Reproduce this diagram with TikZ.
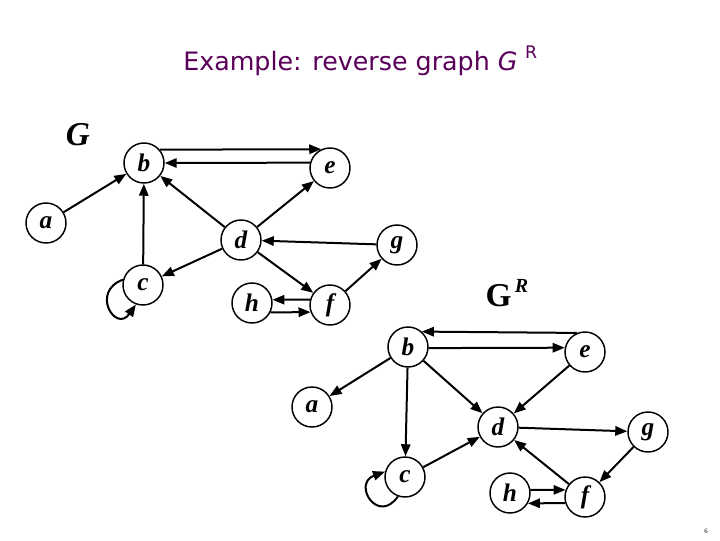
\documentclass[tikz,border=0pt]{standalone}
\usepackage{fontspec}
\setmainfont{Liberation Serif}
\newfontfamily\titlefont{DejaVu Sans}
\usetikzlibrary{arrows.meta,calc}
\definecolor{titlepurple}{RGB}{90,0,90}
\begin{document}
\begin{tikzpicture}[x=0.75pt,y=-0.75pt,
  vert/.style={circle,draw,line width=1.1pt,minimum size=30pt,inner sep=0pt,
    font=\fontsize{19}{19}\selectfont\bfseries\itshape},
  edge/.style={line width=1.5pt,-{Triangle[length=9pt,width=7pt]}},
  glabel/.style={font=\fontsize{25}{25}\selectfont\bfseries},
]
\useasboundingbox (0,0) rectangle (720,540);

% title
\node[anchor=base west,inner sep=0pt,text=titlepurple,
  font=\titlefont\fontsize{19}{19}\selectfont] (title) at (183,70)
  {Example: reverse graph \textit{G}\hspace{0.3em}\raisebox{0.45em}{\fontsize{13}{13}\selectfont R}};

% ---------- graph G ----------
\node[font=\fontsize{25}{25}\selectfont\bfseries\itshape] (G) at (78,135) {G};
\node[vert] (a) at (46,223) {a};
\node[vert] (b) at (144,163) {b};
\node[vert] (e) at (330,168) {e};
\node[vert] (d) at (241,240) {d};
\node[vert] (g) at (397,245) {g};
\node[vert] (c) at (143,285) {c};
\node[vert] (h) at (252,303) {h};
\node[vert] (f) at (330,305) {f};

\draw[edge] (a) -- (b);
\draw[edge] (c) -- (b);
\draw[edge] (b.40) -- (e.115);
\draw[edge] (e.165) -- (b.0);
\draw[edge] (d) -- (b);
\draw[edge] (d) -- (e);
\draw[edge] (g) -- (d);
\draw[edge] (d) -- (c);
\draw[edge] (d) -- (f);
\draw[edge] (f) -- (g);
\draw[edge] (f.165) -- (h.9);
\draw[edge] (h.-27) -- (f.-160);
\draw[edge] (c.165) to[out=200,in=235,looseness=3.2] (c.250);

% ---------- graph G^R ----------
\node[glabel] (GR) at (507,293) {G\raisebox{0.42em}{\fontsize{15}{15}\selectfont\itshape\,R}};
\node[vert] (ra) at (312,407) {a};
\node[vert] (rb) at (408,347) {b};
\node[vert] (re) at (585,352) {e};
\node[vert] (rd) at (498,427) {d};
\node[vert] (rg) at (648,432) {g};
\node[vert] (rc) at (405,477) {c};
\node[vert] (rh) at (510,493) {h};
\node[vert] (rf) at (585,497) {f};

\draw[edge] (re.113) -- (rb.48);
\draw[edge] (rb.-3) -- (re.168);
\draw[edge] (rb) -- (ra);
\draw[edge] (rb) -- (rc);
\draw[edge] (rb) -- (rd);
\draw[edge] (re) -- (rd);
\draw[edge] (rc) -- (rd);
\draw[edge] (rd) -- (rg);
\draw[edge] (rg) -- (rf);
\draw[edge] (rf) -- (rd);
\draw[edge] (rh.9) -- (rf.160);
\draw[edge] (rf.-163) -- (rh.-30);
\draw[edge] (rc.250) to[out=235,in=200,looseness=3.2] (rc.165);

% page number
\node[font=\fontsize{5}{5}\selectfont] (pg) at (706,531) {6};
\end{tikzpicture}
\end{document}
